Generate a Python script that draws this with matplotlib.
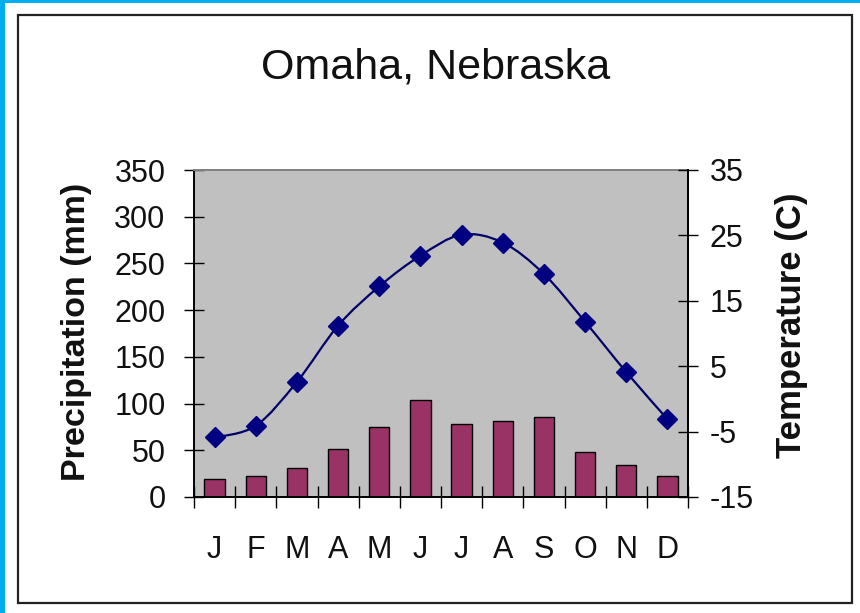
import numpy as np
import matplotlib
matplotlib.use("Agg")
import matplotlib.pyplot as plt
from matplotlib.path import Path
from matplotlib.patches import PathPatch, Rectangle

# Monthly climate normals for Omaha, Nebraska
months = ["J", "F", "M", "A", "M", "J", "J", "A", "S", "O", "N", "D"]
precip_mm = [19, 22, 31, 51, 75, 104, 78, 81, 86, 48, 34, 22]
temp_c = [-5.9, -4.1, 2.6, 11.2, 17.2, 21.9, 25.1, 23.9, 19.1, 11.8, 4.1, -3.1]

precip_ticks = [0, 50, 100, 150, 200, 250, 300, 350]
temp_ticks = [-15, -5, 5, 15, 25, 35]

plt.rcParams["font.family"] = ["Liberation Sans", "DejaVu Sans"]
plt.rcParams["axes.unicode_minus"] = False

W, H = 860, 613
fig = plt.figure(figsize=(W / 100, H / 100), dpi=100)
fig.patch.set_facecolor("white")


def fx(px):
    return px / W


def fy(py):
    return 1 - py / H


# page border strips and chart frame
fig.add_artist(Rectangle((0, 0), fx(5), 1, transform=fig.transFigure,
                         facecolor="#00AEEF", edgecolor="none", zorder=0))
fig.add_artist(Rectangle((0, fy(3)), 1, fx(860), transform=fig.transFigure,
                         facecolor="#00AEEF", edgecolor="none", zorder=0))
fig.add_artist(Rectangle((fx(18), fy(603)), fx(852 - 18), (603 - 15) / H,
                         transform=fig.transFigure, facecolor="none",
                         edgecolor="#222222", linewidth=1.6, zorder=1))

left, right, top, bottom = 194, 688, 170, 497
ax = fig.add_axes([fx(left), fy(bottom), fx(right - left), (bottom - top) / H])
ax.set_facecolor("#C0C0C0")

x = np.arange(len(months))
ax.bar(x, precip_mm, width=0.49, color="#993366", edgecolor="black",
       linewidth=1.0, zorder=2)
ax.set_xlim(-0.5, len(months) - 0.5)
ax.set_ylim(0, 350)
ax.set_yticks(precip_ticks)
ax.set_xticks(x)
ax.set_xticklabels(months)
ax.set_xticks(np.arange(-0.5, len(months)), minor=True)

ax.tick_params(axis="y", which="major", direction="inout", length=15,
               width=1.0, labelsize=22, pad=13, colors="black",
               labelcolor="#111111")
ax.tick_params(axis="x", which="major", length=0, labelsize=22, pad=27,
               labelcolor="#111111")
ax.tick_params(axis="x", which="minor", direction="inout", length=16,
               width=1.0)

for side in ("left", "bottom", "right"):
    ax.spines[side].set_color("black")
    ax.spines[side].set_linewidth(1.4)
ax.spines["top"].set_color("#808080")
ax.spines["top"].set_linewidth(1.4)

ax2 = ax.twinx()
ax2.set_ylim(-15, 35)
ax2.set_yticks(temp_ticks)
ax2.tick_params(axis="y", direction="inout", length=15, width=1.0,
                labelsize=22, pad=8, labelcolor="#111111")
for side in ("left", "bottom", "top"):
    ax2.spines[side].set_visible(False)
ax2.spines["right"].set_color("black")
ax2.spines["right"].set_linewidth(1.4)

# smoothed temperature curve (Catmull-Rom segments as cubic Beziers)
pts = np.column_stack([x, temp_c]).astype(float)
verts = [tuple(pts[0])]
codes = [Path.MOVETO]
n = len(pts)
for i in range(n - 1):
    p0 = pts[max(i - 1, 0)]
    p1 = pts[i]
    p2 = pts[i + 1]
    p3 = pts[min(i + 2, n - 1)]
    c1 = p1 + (p2 - p0) / 6.0
    c2 = p2 - (p3 - p1) / 6.0
    verts += [tuple(c1), tuple(c2), tuple(p2)]
    codes += [Path.CURVE4] * 3
ax2.add_patch(PathPatch(Path(verts, codes), facecolor="none",
                        edgecolor="#000066", linewidth=1.6, zorder=3))
ax2.plot(x, temp_c, linestyle="none", marker="D", markersize=10,
         markerfacecolor="#000080", markeredgecolor="#000080", zorder=4)

fig.text(fx(436), fy(78), "Omaha, Nebraska", ha="center", va="baseline",
         fontsize=31, color="#111111")
fig.text(fx(77), fy(332), "Precipitation (mm)", rotation=90, ha="center",
         va="center", fontsize=24.5, fontweight="bold", color="#111111")
fig.text(fx(792), fy(325), "Temperature (C)", rotation=90, ha="center",
         va="center", fontsize=25, fontweight="bold", color="#111111")

fig.savefig("out.png", dpi=100)
